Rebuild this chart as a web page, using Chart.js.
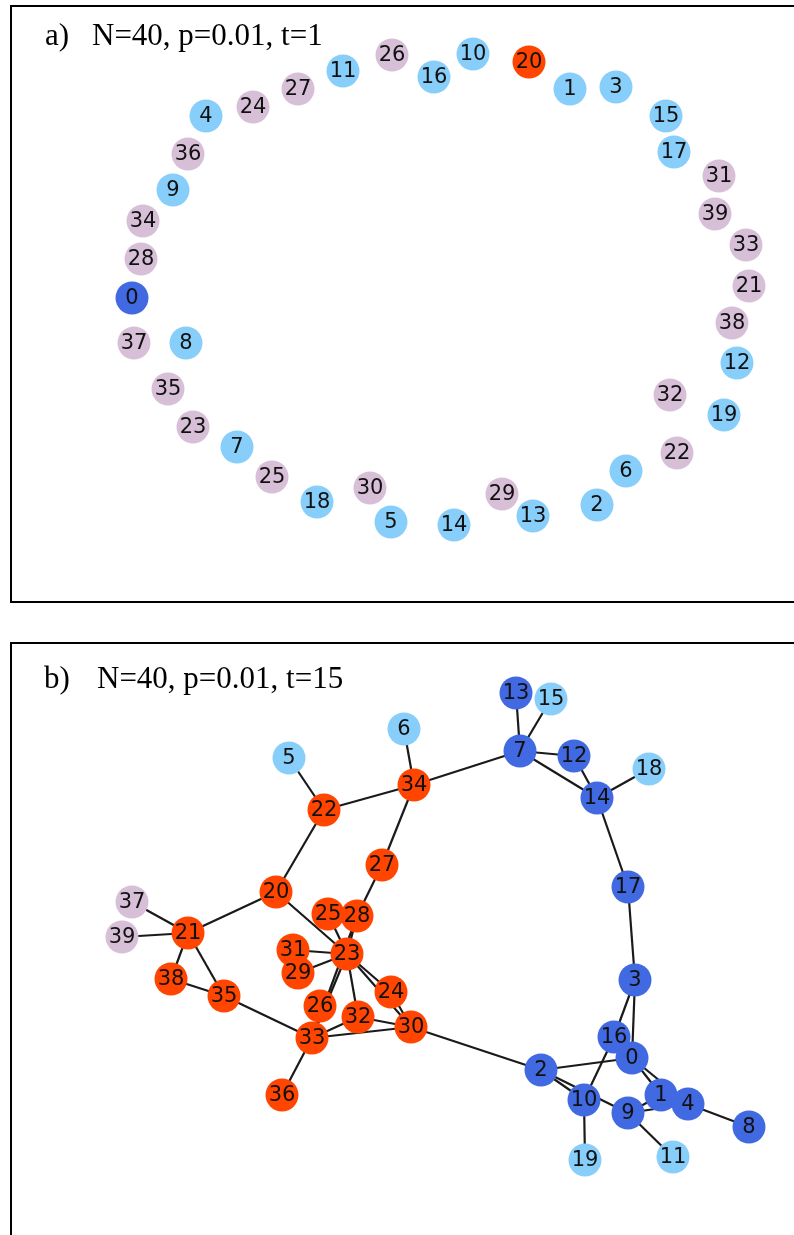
<!DOCTYPE html>
<html>
<head>
<meta charset="utf-8">
<script src="https://cdn.jsdelivr.net/npm/chart.js@4/dist/chart.umd.min.js"></script>
<style>
    html, body { margin: 0; padding: 0; background: #fff; overflow: hidden; }
    #wrap { position: relative; width: 794px; height: 1235px; }
    #graph { position: absolute; left: 0; top: 0; }
    .panel { position: absolute; box-sizing: border-box; border: 2px solid #000; }
    .title {
        position: absolute;
        font-family: "Liberation Serif", "Times New Roman", serif;
        font-size: 31px;
        line-height: 31px;
        color: #000;
        white-space: nowrap;
    }
</style>
</head>
<body>
<div id="wrap">
    <div class="panel" style="left:10px; top:5px; width:800px; height:598px;"></div>
    <div class="panel" style="left:10px; top:642px; width:800px; height:700px;"></div>
    <canvas id="graph" width="794" height="1235"></canvas>
    <div class="title" style="left:45px; top:19px;">a)</div>
    <div class="title" style="left:92px; top:19px;">N=40, p=0.01, t=1</div>
    <div class="title" style="left:44px; top:662px;">b)</div>
    <div class="title" style="left:97px; top:662px;">N=40, p=0.01, t=15</div>
</div>

<script>
// Node layouts (page coordinates), indexed by node id 0..39

// a) t=1
const xA = [132, 570, 597, 616, 206, 391, 626, 237, 186, 173,
            473, 343, 737, 533, 454, 666, 434, 674, 317, 724,
            529, 749, 677, 193, 253, 272, 392, 298, 141, 502,
            370, 719, 670, 746, 143, 168, 188, 134, 732, 715];
const yA = [298,  89, 505,  87, 116, 522, 471, 447, 343, 190,
             54,  71, 363, 516, 525, 116,  77, 152, 502, 415,
             62, 286, 453, 427, 107, 477,  55,  89, 259, 494,
            488, 176, 395, 245, 221, 389, 154, 343, 323, 214];
// state per node: 0 = thistle, 1 = light blue, 2 = royal blue, 3 = orange red
const stateA = [2, 1, 1, 1, 1, 1, 1, 1, 1, 1,
                1, 1, 1, 1, 1, 1, 1, 1, 1, 1,
                3, 0, 0, 0, 0, 0, 0, 0, 0, 0,
                0, 0, 0, 0, 0, 0, 0, 0, 0, 0];

// b) t=15
const xB = [632, 661, 541, 635, 688, 289, 404, 520, 749, 628,
            584, 673, 574, 516, 597, 551, 614, 628, 649, 585,
            276, 188, 324, 347, 391, 328, 320, 382, 357, 298,
            411, 293, 358, 312, 414, 224, 282, 132, 171, 122];
const yB = [1058, 1095, 1070,  980, 1104,  758,  729,  751, 1127, 1113,
            1100, 1157,  756,  693,  798,  699, 1037,  887,  769, 1160,
             892,  933,  810,  954,  992,  914, 1006,  865,  916,  973,
            1027,  950, 1017, 1038,  785,  996, 1095,  902,  979,  937];
const stateB = [2, 2, 2, 2, 2, 1, 1, 2, 2, 2,
                2, 1, 2, 2, 2, 1, 2, 2, 1, 1,
                3, 3, 3, 3, 3, 3, 3, 3, 3, 3,
                3, 3, 3, 3, 3, 3, 3, 0, 3, 0];

const edgesB = [
    [13, 7], [15, 7], [7, 12], [7, 14], [12, 14], [14, 18], [7, 34], [6, 34],
    [34, 22], [5, 22], [34, 27], [22, 20], [27, 28], [20, 21], [20, 23],
    [37, 21], [39, 21], [21, 38], [21, 35], [38, 35], [35, 33], [25, 23],
    [28, 23], [28, 33], [31, 23], [29, 23], [23, 24], [23, 30], [24, 30],
    [23, 33], [23, 32], [32, 33], [32, 30], [33, 30], [33, 36], [30, 2],
    [2, 0], [2, 10], [2, 9], [3, 16], [16, 10], [3, 0], [17, 3], [14, 17],
    [0, 1], [0, 4], [1, 9], [9, 4], [9, 11], [10, 19], [4, 8]
];

const stateColors = ['#D8BFD8', '#87CEFA', '#4169E1', '#FF4500'];

function nodeDataset(xs, ys, states) {
    return {
        label: 'nodes',
        isNodes: true,
        order: 1,
        data: xs.map((x, i) => ({ x: x, y: ys[i] })),
        pointRadius: 16.5,
        pointHoverRadius: 16.5,
        pointBackgroundColor: states.map(s => stateColors[s]),
        pointBorderWidth: 0,
        borderWidth: 0,
        showLine: false
    };
}

function edgeDatasets(edges, xs, ys) {
    return edges.map(e => ({
        label: 'edge',
        order: 2,
        data: [{ x: xs[e[0]], y: ys[e[0]] }, { x: xs[e[1]], y: ys[e[1]] }],
        showLine: true,
        borderColor: '#1a1a1a',
        borderWidth: 2.2,
        pointRadius: 0,
        pointHoverRadius: 0
    }));
}

// Node numbers on top of the circles
const nodeLabels = {
    id: 'nodeLabels',
    afterDatasetsDraw(chart) {
        const ctx = chart.ctx;
        ctx.save();
        ctx.font = '21px "DejaVu Sans", sans-serif';
        ctx.fillStyle = '#111';
        ctx.textAlign = 'center';
        ctx.textBaseline = 'middle';
        chart.data.datasets.forEach((ds, i) => {
            if (!ds.isNodes) return;
            chart.getDatasetMeta(i).data.forEach((pt, j) => {
                ctx.fillText(String(j), pt.x, pt.y + 1);
            });
        });
        ctx.restore();
    }
};

new Chart(document.getElementById('graph'), {
    type: 'scatter',
    data: {
        datasets: [
            ...edgeDatasets(edgesB, xB, yB),
            nodeDataset(xA, yA, stateA),
            nodeDataset(xB, yB, stateB)
        ]
    },
    options: {
        responsive: false,
        animation: false,
        devicePixelRatio: 1,
        layout: { padding: 0, autoPadding: false },
        plugins: {
            legend: { display: false },
            tooltip: { enabled: false }
        },
        scales: {
            x: { type: 'linear', min: 0, max: 794, display: false },
            y: { type: 'linear', min: 0, max: 1235, reverse: true, display: false }
        }
    },
    plugins: [nodeLabels]
});
</script>
</body>
</html>
